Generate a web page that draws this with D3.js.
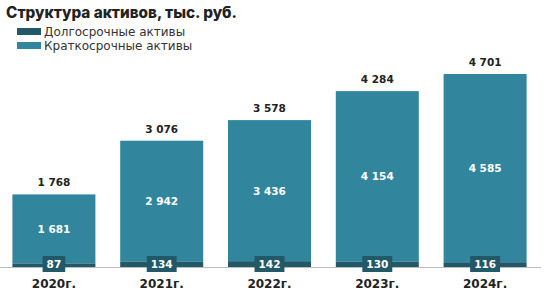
<!DOCTYPE html>
<meta charset="utf-8" />
<style>
  body { margin: 0; background: #fff; }
  svg text { font-family: "DejaVu Sans", sans-serif; }
</style>
<svg width="545" height="295"></svg>
<script src="https://cdn.jsdelivr.net/npm/d3@7"></script>
<script>
  var years = ["2020г.", "2021г.", "2022г.", "2023г.", "2024г."];
  var longTerm = [87, 134, 142, 130, 116];
  var shortTerm = [1681, 2942, 3436, 4154, 4585];
  var totals = [1768, 3076, 3578, 4284, 4701];
  var seriesNames = ["Долгосрочные активы", "Краткосрочные активы"];
  var colors = ["#215968", "#31859c"];

  var svg = d3.select("svg");
  var baseY = 267;

  var fmt = function (v) {
    return d3.format(",")(v).replace(/,/g, " ");
  };

  var x = d3.scaleBand().domain(years).range([0, 539]).paddingInner(0.23).paddingOuter(0.115);
  var y = d3.scaleLinear().domain([0, 4701]).range([baseY, 74]);

  // title
  svg.append("text")
    .attr("x", 6).attr("y", 18)
    .style("font-family", "Inter, sans-serif")
    .attr("font-size", 15.3).attr("font-weight", 800).attr("fill", "#222")
    .text("Структура активов, тыс. руб.");

  // legend
  var leg = svg.selectAll(".leg").data(seriesNames).enter().append("g")
    .attr("transform", function (d, i) { return "translate(17," + (28 + i * 14) + ")"; });
  leg.append("rect").attr("width", 24).attr("height", 7).attr("fill", function (d, i) { return colors[i]; });
  leg.append("text").attr("x", 27).attr("y", 8)
    .attr("font-size", 12).attr("fill", "#333").text(function (d) { return d; });

  // axis line (under the value boxes)
  svg.append("line").attr("x1", 0).attr("x2", 541).attr("y1", baseY + 0.5).attr("y2", baseY + 0.5)
    .attr("stroke", "#bdbdbd").attr("stroke-width", 1);

  var data = years.map(function (d, i) {
    return { year: d, lt: longTerm[i], st: shortTerm[i], total: totals[i] };
  });

  var g = svg.selectAll(".bar").data(data).enter().append("g");

  g.append("rect")
    .attr("x", function (d) { return x(d.year); })
    .attr("width", x.bandwidth())
    .attr("y", function (d) { return y(d.lt + d.st); })
    .attr("height", function (d) { return y(d.lt) - y(d.lt + d.st); })
    .attr("fill", colors[1]);

  g.append("rect")
    .attr("x", function (d) { return x(d.year); })
    .attr("width", x.bandwidth())
    .attr("y", function (d) { return y(d.lt); })
    .attr("height", function (d) { return baseY - y(d.lt); })
    .attr("fill", colors[0]);

  // inner short-term labels
  g.append("text")
    .attr("x", function (d) { return x(d.year) + x.bandwidth() / 2; })
    .attr("y", function (d) { return (y(d.lt) + y(d.lt + d.st)) / 2 + 4; })
    .attr("text-anchor", "middle").attr("font-size", 10.5).attr("font-weight", 700).attr("fill", "#fff")
    .text(function (d) { return fmt(d.st); });

  // totals
  g.append("text")
    .attr("x", function (d) { return x(d.year) + x.bandwidth() / 2; })
    .attr("y", function (d) { return y(d.total) - 8; })
    .attr("text-anchor", "middle").attr("font-size", 10.5).attr("font-weight", 700).attr("fill", "#222")
    .text(function (d) { return fmt(d.total); });

  // long-term label boxes
  var lt = g.append("g");
  var ltText = lt.append("text")
    .attr("x", function (d) { return x(d.year) + x.bandwidth() / 2; })
    .attr("y", 268)
    .attr("text-anchor", "middle").attr("font-size", 10.5).attr("font-weight", 700).attr("fill", "#fff")
    .text(function (d) { return d.lt; });
  ltText.each(function () {
    var b = this.getBBox();
    d3.select(this.parentNode).insert("rect", "text")
      .attr("x", b.x - 4).attr("width", b.width + 8)
      .attr("y", 256).attr("height", 16)
      .attr("fill", colors[0]);
  });

  // category labels
  g.append("text")
    .attr("x", function (d) { return x(d.year) + x.bandwidth() / 2; })
    .attr("y", 288)
    .attr("text-anchor", "middle").attr("font-size", 12).attr("font-weight", 700).attr("fill", "#222")
    .text(function (d) { return d.year; });
</script>
